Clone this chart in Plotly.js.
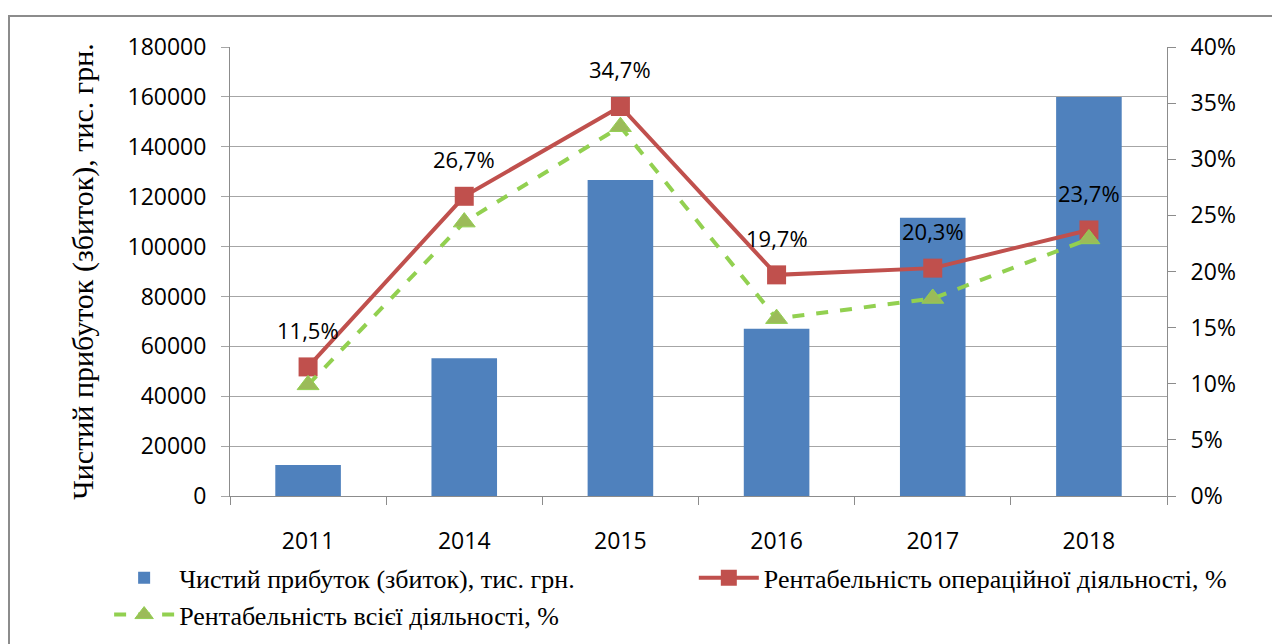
<!DOCTYPE html>
<html><head><meta charset="utf-8">
<script src="https://cdn.plot.ly/plotly-3.0.1.min.js"></script>
<style>
html,body{margin:0;padding:0;background:#fff;overflow:hidden;}
#frame{position:absolute;left:8px;top:15px;width:1300px;height:700px;border:2px solid #8c8c8c;box-sizing:border-box;}
#chart{position:absolute;left:0;top:0;width:1272px;height:644px;}
</style></head>
<body>
<div id="frame"></div>
<div id="chart"></div>
<script>
const years = ['2011','2014','2015','2016','2017','2018'];
const netProfit = [12400, 55200, 126700, 67000, 111500, 160000];
const opProfitability = [11.5, 26.7, 34.7, 19.7, 20.3, 23.7];
const totalProfitability = [9.9, 24.4, 32.9, 15.8, 17.6, 22.9];

const nameBar = 'Чистий прибуток (збиток), тис. грн.';
const nameOp = 'Рентабельність операційної діяльності, %';
const nameTot = 'Рентабельність всієї діяльності, %';

const data = [
  {type:'bar', x:years, y:netProfit, name:nameBar, marker:{color:'#4f81bd'}, yaxis:'y', hoverinfo:'skip', legend:'legend', legendgroup:'a'},
  {type:'scatter', mode:'lines+markers', x:years, y:opProfitability, name:nameOp, yaxis:'y2',
   line:{color:'#c0504d', width:4}, marker:{symbol:'square', size:19, color:'#c0504d'}, hoverinfo:'skip', legend:'legend2'},
  {type:'scatter', mode:'lines+markers', x:years, y:totalProfitability, name:nameTot, yaxis:'y2',
   line:{color:'#92d050', width:4, dash:'dash'}, marker:{symbol:'triangle-up', size:19, color:'#9bbb59', line:{color:'#92d050', width:1}}, hoverinfo:'skip', legend:'legend', legendgroup:'b'}
];

const annotations = years.map((yr,i)=>({
  x: i, y: opProfitability[i], xref:'x', yref:'y2',
  text: opProfitability[i].toFixed(1).replace('.', ',') + '%',
  showarrow:false, yshift:37, font:{family:'Open Sans, Noto Sans, sans-serif', size:22, color:'#000'}
}));

const serif = 'Liberation Serif, Times New Roman, DejaVu Serif, serif';
const tickFont = {family:'Open Sans, Noto Sans, sans-serif', size:23, color:'#000'};
const legendFont = {family:serif, size:26, color:'#000'};
const layout = {
  width:1272, height:644,
  margin:{l:230, r:105, t:47, b:148, autoexpand:false},
  paper_bgcolor:'rgba(0,0,0,0)', plot_bgcolor:'rgba(0,0,0,0)',
  showlegend:true,
  bargap:0.58,
  xaxis:{type:'category', range:[-0.5,5.5], autorange:false, tickfont:tickFont, ticks:'outside', tickson:'boundaries', ticklen:8, tickcolor:'#8c8c8c',
         showline:true, linecolor:'#8c8c8c', linewidth:1, showgrid:false, fixedrange:true, tickangle:0, ticklabelstandoff:24},
  yaxis:{range:[0,180000], dtick:20000, tickformat:'d', tickfont:tickFont, showgrid:true, gridcolor:'#a6a6a6', gridwidth:1,
         showline:true, linecolor:'#8c8c8c', ticks:'outside', ticklen:8, tickcolor:'#a6a6a6', zeroline:false, ticklabelstandoff:10,
         title:{text:nameBar, font:{family:serif, size:30, color:'#000'}, standoff:24}},
  yaxis2:{range:[0,40], dtick:5, ticksuffix:'%', overlaying:'y', side:'right', tickfont:tickFont, showgrid:false,
          showline:true, linecolor:'#8c8c8c', ticks:'outside', ticklen:8, tickcolor:'#8c8c8c', zeroline:false, ticklabelstandoff:10},
  legend:{orientation:'v', x:-0.129, xanchor:'left', y:-0.13, yanchor:'top', tracegroupgap:0, itemwidth:60,
          font:legendFont, bgcolor:'rgba(0,0,0,0)'},
  legend2:{orientation:'v', x:0.495, xanchor:'left', y:-0.13, yanchor:'top', itemwidth:60,
          font:legendFont, bgcolor:'rgba(0,0,0,0)'},
  annotations: annotations
};
Plotly.newPlot('chart', data, layout, {displayModeBar:false, staticPlot:true});
</script>
</body></html>
